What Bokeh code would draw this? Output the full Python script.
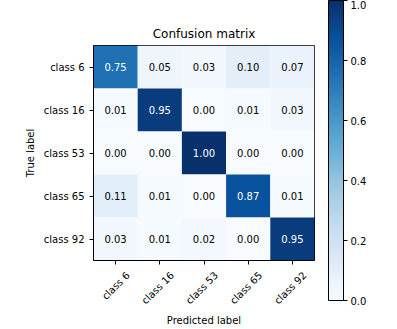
import numpy as np
from bokeh.plotting import figure
from bokeh.models import (LinearColorMapper, ColumnDataSource, FixedTicker, PrintfTickFormatter,
                          ColorBar, CustomJSTickFormatter, LinearAxis, Range1d)
from bokeh.palettes import Blues256
from bokeh.transform import transform
from bokeh.embed import file_html
from bokeh.resources import INLINE
from bokeh.core.properties import value

classes = ["class 6", "class 16", "class 53", "class 65", "class 92"]
matrix = [
    [0.75, 0.05, 0.03, 0.10, 0.07],
    [0.01, 0.95, 0.00, 0.01, 0.03],
    [0.00, 0.00, 1.00, 0.00, 0.00],
    [0.11, 0.01, 0.00, 0.87, 0.01],
    [0.03, 0.01, 0.02, 0.00, 0.95],
]
colorbar_ticks = [0.0, 0.2, 0.4, 0.6, 0.8, 1.0]

FONT = value("DejaVu Sans")
palette = list(Blues256[::-1])
mapper = LinearColorMapper(palette=palette, low=0.0, high=1.0)
n = len(classes)

xs, ys, vals, labels, tcols = [], [], [], [], []
thresh = max(max(r) for r in matrix) / 2.0
for i in range(n):
    for j in range(n):
        v = matrix[i][j]
        xs.append(j + 0.5)
        ys.append(n - 1 - i + 0.5)
        vals.append(v)
        labels.append(f"{v:.2f}")
        tcols.append("white" if v > thresh else "black")
src = ColumnDataSource(dict(x=xs, y=ys, val=vals, label=labels, tc=tcols))

p = figure(x_range=Range1d(0, n), y_range=Range1d(0, n), width=397, height=329,
           output_backend="svg", toolbar_location=None,
           min_border_left=93, min_border_right=83, min_border_top=45, min_border_bottom=63,
           title="Confusion matrix")
p.rect(x="x", y="y", width=1, height=1, source=src,
       fill_color=transform("val", mapper), line_color=None)
p.text(x="x", y="y", text="label", text_color="tc", source=src,
       text_align="center", text_baseline="middle",
       text_font=FONT, text_font_size="10px")
p.grid.visible = False
p.outline_line_color = "black"
p.outline_line_width = 1
p.outline_line_alpha = 1
p.title.align = "center"
p.title.text_font = "DejaVu Sans"
p.title.text_font_size = "12px"
p.title.text_font_style = "normal"
p.title.text_color = "black"
p.yaxis.axis_label = "True label"
for ax in (p.xaxis, p.yaxis):
    ax.axis_label_text_font = "DejaVu Sans"
    ax.axis_label_text_font_size = "10px"
    ax.axis_label_text_font_style = "normal"
    ax.axis_label_text_color = "black"
    ax.major_label_text_font = "DejaVu Sans"
    ax.major_label_text_font_size = "10px"
    ax.major_label_text_color = "black"
    ax.major_tick_out = 4
    ax.major_tick_in = 0
    ax.major_tick_line_color = "black"
    ax.axis_line_color = "black"
    ax.minor_tick_line_color = None

centers = [k + 0.5 for k in range(n)]
p.yaxis.ticker = FixedTicker(ticks=centers)
p.yaxis.major_label_overrides = {n - 1 - i + 0.5: c for i, c in enumerate(classes)}

# main x axis: ticks only
p.xaxis.ticker = FixedTicker(ticks=centers)
p.xaxis.formatter = CustomJSTickFormatter(code="return ''")
p.xaxis.major_label_standoff = 0

# second axis carrying the rotated class labels, shifted so that each rotated
# label is centred under its tick (matplotlib style)
shift = 0.28
p.extra_x_ranges = {"xlab": Range1d(-shift, n - shift)}
lab_axis = LinearAxis(x_range_name="xlab", ticker=FixedTicker(ticks=centers),
                      major_label_overrides={t: c for t, c in zip(centers, classes)},
                      major_label_orientation=np.pi / 4, major_label_standoff=3,
                      major_label_text_font="DejaVu Sans", major_label_text_font_size="10px",
                      major_label_text_color="black",
                      major_tick_line_color=None, minor_tick_line_color=None,
                      axis_line_color=None,
                      axis_label="Predicted label", axis_label_standoff=2,
                      axis_label_text_font="DejaVu Sans", axis_label_text_font_size="10px",
                      axis_label_text_font_style="normal", axis_label_text_color="black")
p.add_layout(lab_axis, "below")

cbar = ColorBar(color_mapper=mapper, location=(235, -40), width=15, height=300,
                padding=0, margin=0, ticker=FixedTicker(ticks=colorbar_ticks),
                formatter=PrintfTickFormatter(format="%.1f"),
                major_label_text_font="DejaVu Sans", major_label_text_font_size="10px",
                major_label_text_color="black",
                major_tick_in=0, major_tick_out=4, major_tick_line_color="black",
                minor_tick_line_color=None, bar_line_color="black",
                border_line_color=None, background_fill_alpha=0, label_standoff=3)
p.add_layout(cbar, "center")

open("out.html", "w").write(file_html(p, INLINE))
